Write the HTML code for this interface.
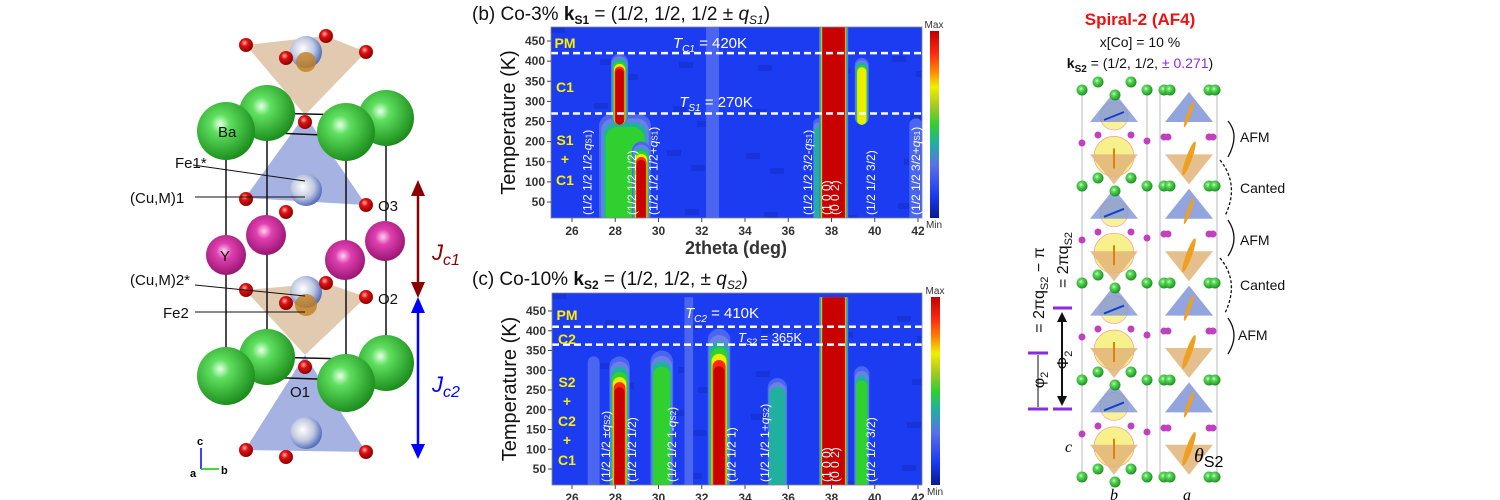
<!DOCTYPE html>
<html><head><meta charset="utf-8">
<style>
body{margin:0;background:#fff;}
svg{display:block;font-family:"Liberation Sans",sans-serif;}
</style></head>
<body>
<svg id="root" width="1500" height="500" viewBox="0 0 1500 500" xmlns="http://www.w3.org/2000/svg">
<defs>
<radialGradient id="gGreen" cx="0.4" cy="0.38" r="0.65"><stop offset="0" stop-color="#e8ffe8"/><stop offset="0.25" stop-color="#5fe05f"/><stop offset="1" stop-color="#1a8a1a"/></radialGradient>
<radialGradient id="gPink" cx="0.45" cy="0.4" r="0.65"><stop offset="0" stop-color="#ffd0f0"/><stop offset="0.3" stop-color="#e040b0"/><stop offset="1" stop-color="#90106a"/></radialGradient>
<radialGradient id="gRed" cx="0.4" cy="0.35" r="0.7"><stop offset="0" stop-color="#ffb0b0"/><stop offset="0.35" stop-color="#e01010"/><stop offset="1" stop-color="#800000"/></radialGradient>
<radialGradient id="gMix" cx="0.4" cy="0.4" r="0.7"><stop offset="0" stop-color="#ffffff"/><stop offset="0.5" stop-color="#c0c8e0"/><stop offset="1" stop-color="#3050b0"/></radialGradient>
<clipPath id="clipB"><rect x="551" y="27" width="371" height="191"/></clipPath>
<clipPath id="clipC"><rect x="552" y="293" width="370" height="192"/></clipPath>
<linearGradient id="cbar" x1="0" y1="1" x2="0" y2="0">
<stop offset="0" stop-color="#0a1a90"/><stop offset="0.12" stop-color="#1a3af5"/><stop offset="0.28" stop-color="#5a70e8"/><stop offset="0.4" stop-color="#20b0a0"/><stop offset="0.5" stop-color="#30d030"/><stop offset="0.6" stop-color="#a8c820"/><stop offset="0.7" stop-color="#f0f000"/><stop offset="0.78" stop-color="#ff8a00"/><stop offset="0.88" stop-color="#ff2a10"/><stop offset="1" stop-color="#c00000"/>
</linearGradient>
</defs>

<!-- ============ LEFT: crystal structure ============ -->
<g id="struct">
  <polygon points="246,45 326,36 366,52 305,115" fill="#d8b896" opacity="0.75"/>
  <polygon points="305,115 245,198 366,205 " fill="#8898d8" opacity="0.75"/>
  <polygon points="245,290 326,283 366,297 305,355" fill="#d8b896" opacity="0.75"/>
  <polygon points="305,355 245,450 366,452" fill="#8898d8" opacity="0.75"/>
  <g stroke="#111" stroke-width="1.5" fill="none">
    <line x1="226" y1="131" x2="226" y2="376"/><line x1="346" y1="132" x2="346" y2="383"/>
    <line x1="267" y1="113" x2="267" y2="357"/><line x1="386" y1="118" x2="386" y2="363"/>
    <line x1="226" y1="131" x2="346" y2="136"/><line x1="267" y1="113" x2="386" y2="116"/>
    <line x1="226" y1="376" x2="346" y2="380"/><line x1="267" y1="357" x2="386" y2="360"/>
  </g>
  <g>
    <circle cx="267" cy="113" r="28" fill="url(#gGreen)"/><circle cx="386" cy="118" r="28" fill="url(#gGreen)"/>
    <circle cx="226" cy="131" r="29" fill="url(#gGreen)"/><circle cx="346" cy="132" r="29" fill="url(#gGreen)"/>
    <circle cx="267" cy="357" r="28" fill="url(#gGreen)"/><circle cx="386" cy="363" r="28" fill="url(#gGreen)"/>
    <circle cx="226" cy="376" r="29" fill="url(#gGreen)"/><circle cx="346" cy="383" r="29" fill="url(#gGreen)"/>
  </g>
  <g>
    <circle cx="266" cy="235" r="20" fill="url(#gPink)"/><circle cx="385" cy="241" r="20" fill="url(#gPink)"/>
    <circle cx="226" cy="255" r="20" fill="url(#gPink)"/><circle cx="345" cy="260" r="20" fill="url(#gPink)"/>
  </g>
  <g>
    <circle cx="306" cy="52" r="16" fill="url(#gMix)"/><circle cx="306" cy="62" r="10" fill="#c08020" opacity="0.8"/>
    <circle cx="306" cy="190" r="16" fill="url(#gMix)"/>
    <circle cx="306" cy="292" r="16" fill="url(#gMix)"/><circle cx="306" cy="305" r="11" fill="#c08020" opacity="0.8"/>
    <circle cx="306" cy="433" r="16" fill="url(#gMix)"/>
  </g>
  <g>
    <circle cx="246" cy="45" r="7" fill="url(#gRed)"/><circle cx="326" cy="36" r="7" fill="url(#gRed)"/><circle cx="366" cy="52" r="7" fill="url(#gRed)"/><circle cx="286" cy="58" r="7" fill="url(#gRed)"/>
    <circle cx="305" cy="122" r="7" fill="url(#gRed)"/>
    <circle cx="246" cy="199" r="7" fill="url(#gRed)"/><circle cx="366" cy="205" r="7" fill="url(#gRed)"/><circle cx="286" cy="212" r="7" fill="url(#gRed)"/>
    <circle cx="246" cy="290" r="7" fill="url(#gRed)"/><circle cx="326" cy="283" r="7" fill="url(#gRed)"/><circle cx="366" cy="297" r="7" fill="url(#gRed)"/><circle cx="286" cy="303" r="7" fill="url(#gRed)"/>
    <circle cx="305" cy="367" r="7" fill="url(#gRed)"/>
    <circle cx="246" cy="450" r="7" fill="url(#gRed)"/><circle cx="366" cy="452" r="7" fill="url(#gRed)"/><circle cx="286" cy="457" r="7" fill="url(#gRed)"/>
  </g>
  <g font-size="15" fill="#111">
    <text x="218" y="137">Ba</text>
    <text x="220" y="261">Y</text>
    <text x="175" y="168">Fe1*</text>
    <text x="130" y="203">(Cu,M)1</text>
    <text x="130" y="285">(Cu,M)2*</text>
    <text x="163" y="318">Fe2</text>
    <text x="378" y="211">O3</text>
    <text x="378" y="304">O2</text>
    <text x="290" y="397">O1</text>
  </g>
  <g stroke="#111" stroke-width="1">
    <line x1="193" y1="165" x2="305" y2="181"/><line x1="195" y1="197" x2="305" y2="197"/>
    <line x1="195" y1="285" x2="305" y2="296"/><line x1="195" y1="312" x2="305" y2="312"/>
  </g>
  <g>
    <line x1="418" y1="190" x2="418" y2="290" stroke="#8b0000" stroke-width="2.5"/>
    <polygon points="411,196 425,196 418,180" fill="#8b0000"/><polygon points="411,282 425,282 418,298" fill="#8b0000"/>
  </g>
  <g>
    <line x1="418" y1="300" x2="418" y2="450" stroke="#0000ff" stroke-width="2.5"/>
    <polygon points="411,313 425,313 418,297" fill="#0000ff"/><polygon points="411,444 425,444 418,459" fill="#0000ff"/>
  </g>
  <text x="432" y="260" font-size="22" font-style="italic" fill="#8b0000">J<tspan font-size="16" dy="5">c1</tspan></text>
  <text x="432" y="392" font-size="22" font-style="italic" fill="#0000ff">J<tspan font-size="16" dy="5">c2</tspan></text>
  <g>
    <line x1="201" y1="469" x2="201" y2="448" stroke="#0000ff" stroke-width="1.5"/>
    <line x1="201" y1="469" x2="219" y2="469" stroke="#00cc00" stroke-width="1.5"/>
    <text x="197" y="445" font-size="11" font-weight="bold">c</text>
    <text x="221" y="474" font-size="11" font-weight="bold">b</text>
    <text x="190" y="477" font-size="11" font-weight="bold">a</text>
  </g>
</g>

<!-- ============ MIDDLE: heatmaps ============ -->
<g id="panelB"></g>
<g id="panelC"></g>

<!-- ============ RIGHT: spiral structure ============ -->
<g id="spiral">
  <text x="1140" y="25" text-anchor="middle" font-size="17" font-weight="bold" fill="#ee1111">Spiral-2 (AF4)</text>
  <text x="1140" y="47" text-anchor="middle" font-size="14" fill="#111">x[Co] = 10 %</text>
  <text x="1140" y="68" text-anchor="middle" font-size="14" fill="#111"><tspan font-weight="bold">k</tspan><tspan font-weight="bold" font-size="10" dy="4">S2</tspan><tspan dy="-4"> = (1/2, 1/2, </tspan><tspan fill="#8a2be2">± 0.271</tspan>)</text>
  <g id="spiralBody"></g>
  <g font-size="14" fill="#111">
    <text x="1240" y="142">AFM</text><text x="1240" y="193">Canted</text><text x="1240" y="245">AFM</text><text x="1240" y="290">Canted</text><text x="1238" y="340">AFM</text>
  </g>
  <g fill="none" stroke="#111" stroke-width="1.3">
    <path d="M1228,121 Q1240,135 1228,157"/>
    <path d="M1220,160 Q1240,185 1225,216" stroke-dasharray="3,2"/>
    <path d="M1228,220 Q1240,238 1228,256"/>
    <path d="M1220,258 Q1240,282 1225,313" stroke-dasharray="3,2"/>
    <path d="M1228,318 Q1240,335 1228,354"/>
  </g>
  <g>
    <line x1="1028" y1="353" x2="1048" y2="353" stroke="#8a2be2" stroke-width="3"/>
    <line x1="1028" y1="409" x2="1048" y2="409" stroke="#8a2be2" stroke-width="3"/>
    <line x1="1053" y1="308" x2="1072" y2="308" stroke="#8a2be2" stroke-width="3"/>
    <line x1="1053" y1="409" x2="1072" y2="409" stroke="#8a2be2" stroke-width="3"/>
    <line x1="1038" y1="355" x2="1038" y2="407" stroke="#111" stroke-width="1"/>
    <line x1="1062" y1="318" x2="1062" y2="398" stroke="#111" stroke-width="2"/>
    <polygon points="1057,322 1067,322 1062,312" fill="#111"/><polygon points="1057,396 1067,396 1062,406" fill="#111"/>
    <text transform="translate(1044,380) rotate(-90)" text-anchor="middle" font-size="16" fill="#111">φ<tspan font-size="11" dy="4">2</tspan></text>
    <text transform="translate(1068,360) rotate(-90)" text-anchor="middle" font-size="16" fill="#111">Φ<tspan font-size="11" dy="4">2</tspan></text>
    <text transform="translate(1044,290) rotate(-90)" text-anchor="middle" font-size="16" fill="#111">= 2πq<tspan font-size="11" dy="4">S2</tspan><tspan dy="-4"> − π</tspan></text>
    <text transform="translate(1068,260) rotate(-90)" text-anchor="middle" font-size="16" fill="#111">= 2πq<tspan font-size="11" dy="4">S2</tspan></text>
  </g>
  <text x="1065" y="452" font-size="16" font-style="italic" font-family="Liberation Serif,serif">c</text>
  <text x="1110" y="500" font-size="16" font-style="italic" font-family="Liberation Serif,serif">b</text>
  <text x="1183" y="500" font-size="16" font-style="italic" font-family="Liberation Serif,serif">a</text>
  <text x="1194" y="462" font-size="20" font-style="italic" font-family="Liberation Serif,serif">θ<tspan font-style="normal" font-family="Liberation Sans,sans-serif" font-size="16" dy="5">S2</tspan></text>
</g>
</svg>

<script>
// ---------- Data: panel (b) Co-3% ----------
const tickLabels2theta = [26, 28, 30, 32, 34, 36, 38, 40, 42];
const tickLabelsTemp = [50, 100, 150, 200, 250, 300, 350, 400, 450];
const bPeakCenters = [32.5, 28.45, 29.2, 28.2, 37.4, 38.1, 39.4, 41.9];
const bPeakWidths  = [0.6, 2.4, 0.85, 0.8, 0.5, 1.35, 0.65, 0.6];
const bPeakTlow    = [10, 10, 10, 262, 10, 10, 262, 10];
const bPeakThigh   = [485, 268, 200, 418, 258, 485, 408, 258];
const bPeakLevel   = [0.16, 0.5, 0.97, 0.97, 0.45, 1.0, 0.7, 0.18];
const bLines = [420, 270];
// ---------- Data: panel (c) Co-10% ----------
const cPeakCenters = [27.0, 28.2, 30.15, 32.8, 35.5, 38.1, 39.4, 31.4];
const cPeakWidths  = [0.55, 0.95, 1.05, 1.05, 0.9, 1.35, 0.7, 0.4];
const cPeakTlow    = [10, 10, 10, 10, 10, 10, 10, 10];
const cPeakThigh   = [335, 335, 350, 405, 280, 485, 310, 485];
const cPeakLevel   = [0.16, 0.97, 0.55, 0.97, 0.36, 1.0, 0.55, 0.14];
const cLines = [410, 365];

const NS = "http://www.w3.org/2000/svg";
const layerColors = ['#4a66f0','#6a80e8','#20b0a0','#30d030','#e8f000','#ff2a10','#c80000'];

function mk(tag, attrs, parent) {
  const e = document.createElementNS(NS, tag);
  for (const k in attrs) e.setAttribute(k, attrs[k]);
  parent.appendChild(e);
  return e;
}

function drawPanel(g, cfg) {
  const xS = d => cfg.x26 + (d - 26) * cfg.pxPerDeg;
  const yS = t => cfg.y50 - (t - 50) * cfg.pxPerK;
  const bg = mk('rect', {x: cfg.left, y: cfg.top, width: cfg.w, height: cfg.h, fill: '#1c3cf2'}, g);
  
  
  const clip = mk('g', {'clip-path': 'url(#' + cfg.clip + ')'}, g);
  for (let i = 0; i < 28; i++) {
    const px = cfg.left + ((i * 73) % cfg.w);
    const py = cfg.top + ((i * 47) % cfg.h);
    mk('rect', {x: px, y: py, width: 14, height: 6, fill: '#1430d0', opacity: 0.7}, clip);
  }
  for (let p = 0; p < cfg.centers.length; p++) {
    const c = cfg.centers[p], wd = cfg.widths[p], lo = cfg.tlow[p], hi = cfg.thigh[p], lv = cfg.level[p];
    const full = hi >= 480;
    const n = layerColors.length;
    const pk = mk('g', {}, clip);
    
    
    for (let i = 0; i < n; i++) {
      if (lv < (i + 0.5) / n) break;
      const f = full ? (1 - i * 0.04) : (1 - i * 0.085);
      const half = wd * f / 2;
      const top = full ? hi : hi - (hi - lo) * i * 0.04;
      const x0 = xS(c - half), x1 = xS(c + half);
      const y0 = yS(top), y1 = yS(lo - 20);
      const rr = full ? 0 : Math.min((x1 - x0) / 2, 12);
      mk('rect', {x: x0, y: y0, width: x1 - x0, height: y1 - y0, rx: rr, ry: full ? 0 : rr, fill: layerColors[i]}, pk);
    }
  }
  cfg.lines.forEach((t, i) => {
    const l = mk('line', {x1: cfg.left, x2: cfg.left + cfg.w, y1: yS(t), y2: yS(t), stroke: '#fff', 'stroke-width': 2.5, 'stroke-dasharray': '7,4'}, g);
    
    
  });
  mk('rect', {x: cfg.left, y: cfg.top, width: cfg.w, height: cfg.h, fill: 'none', stroke: '#888', 'stroke-width': 0.8}, g);
  tickLabelsTemp.forEach(t => {
    mk('line', {x1: cfg.left - 4, x2: cfg.left, y1: yS(t), y2: yS(t), stroke: '#444'}, g);
    const tx = mk('text', {x: cfg.left - 6, y: yS(t) + 4, 'text-anchor': 'end', 'font-size': 12, 'font-weight': 'bold', fill: '#333'}, g);
    tx.textContent = t;
    
    
  });
  tickLabels2theta.forEach(d => {
    mk('line', {x1: xS(d), x2: xS(d), y1: cfg.top + cfg.h, y2: cfg.top + cfg.h + 4, stroke: '#444'}, g);
    const tx = mk('text', {x: xS(d), y: cfg.top + cfg.h + 17, 'text-anchor': 'middle', 'font-size': 12, 'font-weight': 'bold', fill: '#333'}, g);
    tx.textContent = d;
    
    
  });
  const yt = mk('text', {transform: 'translate(' + (cfg.left - 36) + ',' + (cfg.top + cfg.h / 2) + ') rotate(-90)', 'text-anchor': 'middle', 'font-size': 20, fill: '#111'}, g);
  yt.textContent = 'Temperature (K)';
  
  
  mk('rect', {x: cfg.cbx, y: cfg.top + 4, width: 9, height: cfg.h - 4, fill: 'url(#cbar)'}, g);
  const mx = mk('text', {x: cfg.cbx + 4, y: cfg.top + 1, 'text-anchor': 'middle', 'font-size': 10, fill: '#333'}, g);
  mx.textContent = 'Max';
  
  
  const mn = mk('text', {x: cfg.cbx + 4, y: cfg.top + cfg.h + 10, 'text-anchor': 'middle', 'font-size': 10, fill: '#333'}, g);
  mn.textContent = 'Min';
  
  
  cfg.vlabels.forEach(v => {
    const t = mk('text', {transform: 'translate(' + xS(v[0]) + ',' + (cfg.top + cfg.h - 3) + ') rotate(-90)', 'font-size': 12, fill: '#fff'}, g);
    t.innerHTML = v[1];
    
    
  });
  cfg.texts.forEach(v => {
    const t = mk('text', {x: v[0], y: v[1], 'font-size': v[3], fill: v[4], 'font-weight': v[5] || 'normal', 'text-anchor': 'middle'}, g);
    t.innerHTML = v[2];
    
    
  });
}

drawPanel(document.getElementById('panelB'), {
  left: 551, top: 27, w: 371, h: 191, x26: 572, pxPerDeg: 21.625, y50: 202, pxPerK: 0.4025, clip: 'clipB', cbx: 930,
  centers: bPeakCenters, widths: bPeakWidths, tlow: bPeakTlow, thigh: bPeakThigh, level: bPeakLevel, lines: bLines,
  vlabels: [[26.9,'(1/2 1/2 1/2-<tspan font-style="italic">q</tspan><tspan font-size="8">S1</tspan>)'],[29.95,'(1/2 1/2 1/2+<tspan font-style="italic">q</tspan><tspan font-size="8">S1</tspan>)'],[28.95,'(1/2 1/2 1/2)'],
            [37.1,'(1/2 1/2 3/2-<tspan font-style="italic">q</tspan><tspan font-size="8">S1</tspan>)'],[37.95,'(1 0 0)'],[38.35,'(0 0 2)'],[40.0,'(1/2 1/2 3/2)'],[42.1,'(1/2 1/2 3/2+<tspan font-style="italic">q</tspan><tspan font-size="8">S1</tspan>)']],
  texts: [[565,48,'PM',14,'#ffee00','bold'],[565,92,'C1',14,'#ffee00','bold'],[565,145,'S1',14,'#ffee00','bold'],[565,164,'+',14,'#ffee00','bold'],[565,185,'C1',14,'#ffee00','bold'],
          [710,48,'<tspan font-style="italic">T</tspan><tspan font-style="italic" font-size="10" dy="4">C1</tspan><tspan dy="-4"> = 420K</tspan>',15,'#fff'],
          [716,107,'<tspan font-style="italic">T</tspan><tspan font-style="italic" font-size="10" dy="4">S1</tspan><tspan dy="-4"> = 270K</tspan>',15,'#fff']]
});
drawPanel(document.getElementById('panelC'), {
  left: 552, top: 293, w: 370, h: 192, x26: 572, pxPerDeg: 21.625, y50: 469, pxPerK: 0.395, clip: 'clipC', cbx: 931,
  centers: cPeakCenters, widths: cPeakWidths, tlow: cPeakTlow, thigh: cPeakThigh, level: cPeakLevel, lines: cLines,
  vlabels: [[27.75,'(1/2 1/2 ±<tspan font-style="italic">q</tspan><tspan font-size="8">S2</tspan>)'],[28.95,'(1/2 1/2 1/2)'],[30.8,'(1/2 1/2 1-<tspan font-style="italic">q</tspan><tspan font-size="8">S2</tspan>)'],
            [33.55,'(1/2 1/2 1)'],[35.1,'(1/2 1/2 1+<tspan font-style="italic">q</tspan><tspan font-size="8">S2</tspan>)'],[37.95,'(1 0 0)'],[38.35,'(0 0 2)'],[40.0,'(1/2 1/2 3/2)']],
  texts: [[567,320,'PM',14,'#ffee00','bold'],[567,344,'C2',14,'#ffee00','bold'],[567,387,'S2',14,'#ffee00','bold'],[567,406,'+',14,'#ffee00','bold'],[567,426,'C2',14,'#ffee00','bold'],[567,445,'+',14,'#ffee00','bold'],[567,465,'C1',14,'#ffee00','bold'],
          [722,318,'<tspan font-style="italic">T</tspan><tspan font-style="italic" font-size="10" dy="4">C2</tspan><tspan dy="-4"> = 410K</tspan>',15,'#fff'],
          [770,342,'<tspan font-style="italic">T</tspan><tspan font-style="italic" font-size="9" dy="3">S2</tspan><tspan dy="-3"> = 365K</tspan>',13,'#fff']]
});

(function(){
  const root = document.getElementById('root');
  const t1 = mk('text', {x: 472, y: 20, 'font-size': 19, fill: '#111'}, root);
  t1.innerHTML = '(b) Co-3% <tspan font-weight="bold">k</tspan><tspan font-weight="bold" font-size="12" dy="4">S1</tspan><tspan dy="-4"> = (1/2, 1/2, 1/2 ± </tspan><tspan font-style="italic">q</tspan><tspan font-style="italic" font-size="12" dy="4">S1</tspan><tspan dy="-4">)</tspan>';
  
  
  const t2 = mk('text', {x: 472, y: 285, 'font-size': 19, fill: '#111'}, root);
  t2.innerHTML = '(c) Co-10% <tspan font-weight="bold">k</tspan><tspan font-weight="bold" font-size="12" dy="4">S2</tspan><tspan dy="-4"> = (1/2, 1/2, ± </tspan><tspan font-style="italic">q</tspan><tspan font-style="italic" font-size="12" dy="4">S2</tspan><tspan dy="-4">)</tspan>';
  
  
  const xt = mk('text', {x: 736, y: 254, 'text-anchor': 'middle', 'font-size': 18, 'font-weight': 'bold', fill: '#333'}, root);
  xt.textContent = '2theta (deg)';
  
  
})();

(function(){
  const g = document.getElementById('spiralBody');
  const greenY = [90, 186, 283, 380, 477];
  const lc = [1082, 1147], rc = [1160, 1217];
  [lc[0], lc[1], rc[0], rc[1]].forEach(x => mk('line', {x1: x, x2: x, y1: 90, y2: 477, stroke: '#bbb', 'stroke-width': 1}, g));
  for (let i = 0; i < 8; i++) {
    const yTop = greenY[0] + i * 48.4;
    const blue = i % 2 === 0;
    const col = blue ? '#7f95d8' : '#e2b47a';
    if (blue) {
      mk('circle', {cx: 1114, cy: yTop + 26, r: 14, fill: '#f6ee70', opacity: 0.7, stroke: '#f08080', 'stroke-width': 0.7}, g);
      mk('polygon', {points: '1114,' + (yTop+2) + ' 1090,' + (yTop+32) + ' 1138,' + (yTop+32), fill: col, opacity: 0.8}, g);
      mk('polygon', {points: '1189,' + (yTop+2) + ' 1165,' + (yTop+32) + ' 1213,' + (yTop+32), fill: col, opacity: 0.85}, g);
      mk('line', {x1: 1104, y1: yTop + 30, x2: 1124, y2: yTop + 22, stroke: '#1040d0', 'stroke-width': 2}, g);
      mk('ellipse', {cx: 1189, cy: yTop + 24, rx: 2, ry: 14, fill: '#f0a020', transform: 'rotate(20 1189 ' + (yTop + 24) + ')'}, g);
    } else {
      mk('circle', {cx: 1114, cy: yTop + 18, r: 20, fill: '#f6ee70', opacity: 0.8, stroke: '#f08080', 'stroke-width': 0.7}, g);
      mk('polygon', {points: '1090,' + (yTop+16) + ' 1138,' + (yTop+16) + ' 1114,' + (yTop+46), fill: col, opacity: 0.85}, g);
      mk('polygon', {points: '1165,' + (yTop+16) + ' 1213,' + (yTop+16) + ' 1189,' + (yTop+46), fill: col, opacity: 0.85}, g);
      mk('ellipse', {cx: 1189, cy: yTop + 20, rx: 3, ry: 18, fill: '#f0a020', transform: 'rotate(20 1189 ' + (yTop + 20) + ')'}, g);
      mk('line', {x1: 1114, y1: yTop + 10, x2: 1114, y2: yTop + 30, stroke: '#e08010', 'stroke-width': 2}, g);
    }
  }
  greenY.forEach(y => {
    [[1082,y],[1098,y-8],[1131,y-8],[1147,y],[1115,y+5],[1164,y],[1170,y],[1209,y],[1215,y]].forEach(p => mk('circle', {cx: p[0], cy: p[1], r: 5.5, fill: 'url(#gGreen)'}, g));
  });
  for (let i = 0; i < 4; i++) {
    const y = 137 + i * 97;
    [[1082,y+6],[1098,y-2],[1131,y-2],[1147,y+4],[1164,y],[1168,y],[1209,y],[1213,y]].forEach(p => mk('circle', {cx: p[0], cy: p[1], r: 3.5, fill: '#c040c0'}, g));
  }
})();
</script>
</body></html>
